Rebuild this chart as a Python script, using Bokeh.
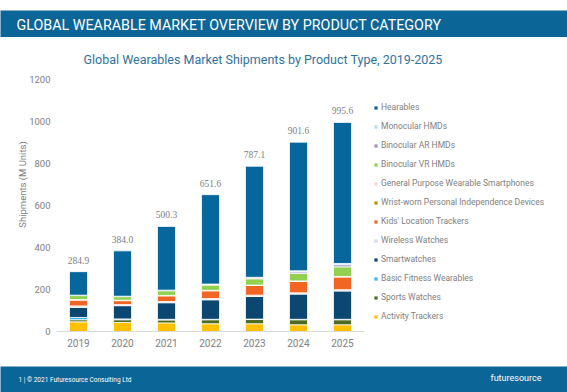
from bokeh.plotting import figure
from bokeh.models import (Range1d, ColumnDataSource, Legend, LegendItem,
                          LabelSet, Label, FixedTicker)
from bokeh.layouts import column
from bokeh.embed import file_html
from bokeh.resources import INLINE

# ---------------- data ----------------
years = ["2019", "2020", "2021", "2022", "2023", "2024", "2025"]
totals = [284.9, 384.0, 500.3, 651.6, 787.1, 901.6, 995.6]

activity_trackers = [46, 43, 41, 37, 37, 32, 32]
sports_watches = [10, 13, 14, 19, 20, 24, 24]
basic_fitness = [11, 4, 3, 2, 2, 2, 2]
smartwatches = [48, 63, 79, 93, 108, 120, 135]
wireless_watches = [7, 5, 6, 6, 6, 6, 6]
kids_trackers = [28, 19, 27, 37, 46, 55, 61]
wrist_worn = [1, 1, 1, 1, 1, 1, 1]
gp_smartphones = [1, 1, 1, 1, 1, 1, 1]
binocular_vr = [19, 17, 22, 25, 30, 36, 46]
binocular_ar = [1, 1, 2, 3, 4, 7, 10]
monocular = [1, 1, 1, 2, 3, 5, 6]
hearables = [111.9, 216.0, 303.3, 425.6, 529.1, 612.6, 671.6]

series_names = ["Activity Trackers", "Sports Watches", "Basic Fitness Wearables",
                "Smartwatches", "Wireless Watches", "Kids' Location Trackers",
                "Wrist-worn Personal Independence Devices",
                "General Purpose Wearable Smartphones", "Binocular VR HMDs",
                "Binocular AR HMDs", "Monocular HMDs", "Hearables"]
series_values = [activity_trackers, sports_watches, basic_fitness, smartwatches,
                 wireless_watches, kids_trackers, wrist_worn, gp_smartphones,
                 binocular_vr, binocular_ar, monocular, hearables]
series_colors = ["#FFC000", "#4F6B22", "#3DB5EA", "#0B4770", "#D7DAE6", "#F26522",
                 "#BF9000", "#F8D9D0", "#92D050", "#9C90C2", "#B4DEF2", "#07669C"]

y_ticks = [0, 200, 400, 600, 800, 1000, 1200]

main_title = "GLOBAL WEARABLE MARKET OVERVIEW BY PRODUCT CATEGORY"
chart_title = "Global Wearables Market Shipments by Product Type, 2019-2025"
y_label = "Shipments (M Units)"
footer_text = "1  |  \u00a9 2021 Futuresource Consulting Ltd"
logo_text = "futuresource"

# ---------------- style ----------------
FONT = "Roboto"
BLUE = "#0C6597"
GREY = "#808080"
W = 567

# ---------------- top banner ----------------
top = figure(width=W, height=37, x_range=Range1d(0, W), y_range=Range1d(0, 27),
             output_backend="svg", toolbar_location=None,
             x_axis_location=None, y_axis_location=None, frame_align=False,
             min_border_top=10, min_border_bottom=0, min_border_left=0, min_border_right=0)
top.grid.visible = False
top.outline_line_color = None
top.background_fill_color = BLUE
top.border_fill_color = "white"
top.add_layout(Label(x=16, y=13, text=main_title, text_baseline="middle",
                     text_color="white", text_font=FONT, text_font_size="14.3px"))

# ---------------- main chart ----------------
x_pos = [i + 0.5 for i in range(len(years))]
src = {"x": x_pos, "year": years}
for n, v in zip(series_names, series_values):
    src[n] = v
source = ColumnDataSource(src)

# frame: 511 px wide (44 px per year slot), 294 px tall (0..1200 over 252 px)
p = figure(width=W, height=329, x_range=Range1d(0, 511 / 44),
           y_range=Range1d(0, 1200 * 294 / 252),
           output_backend="svg", toolbar_location=None, frame_align=False,
           min_border_left=56, min_border_right=0, min_border_top=0, min_border_bottom=35)
p.outline_line_color = None
p.grid.grid_line_color = None
p.background_fill_color = "white"
p.border_fill_color = "white"

renderers = p.vbar_stack(series_names, x="x", width=0.41, color=series_colors,
                         line_color="white", line_width=0.8, source=source)

p.yaxis.ticker = FixedTicker(ticks=y_ticks)
p.yaxis.axis_line_color = None
p.yaxis.major_tick_line_color = None
p.yaxis.major_tick_out = 0
p.yaxis.minor_tick_line_color = None
p.yaxis.major_label_standoff = 6
p.yaxis.major_label_text_font = FONT
p.yaxis.major_label_text_font_size = "9.5px"
p.yaxis.major_label_text_color = GREY
p.yaxis.axis_label = y_label
p.yaxis.axis_label_text_font = FONT
p.yaxis.axis_label_text_font_style = "normal"
p.yaxis.axis_label_text_font_size = "9.5px"
p.yaxis.axis_label_text_color = GREY
p.yaxis.axis_label_standoff = -2

p.xaxis.ticker = FixedTicker(ticks=x_pos)
p.xaxis.major_label_overrides = {x: y for x, y in zip(x_pos, years)}
p.xaxis.bounds = (0, len(years))
p.xaxis.axis_line_color = "#D9D9D9"
p.xaxis.major_tick_line_color = None
p.xaxis.major_tick_out = 0
p.xaxis.minor_tick_line_color = None
p.xaxis.major_label_standoff = 7
p.xaxis.major_label_text_font = FONT
p.xaxis.major_label_text_font_size = "10px"
p.xaxis.major_label_text_color = GREY

tot_src = ColumnDataSource({"x": x_pos, "total": totals,
                            "txt": ["%.1f" % t for t in totals]})
p.add_layout(LabelSet(x="x", y="total", text="txt", source=tot_src, y_offset=8,
                      text_align="center", text_baseline="bottom", text_font=FONT,
                      text_font_size="9.5px", text_color=GREY))

# chart title (inside the frame's upper white area)
p.add_layout(Label(x=27, y=272, x_units="screen", y_units="screen", text=chart_title,
                   text_baseline="middle", text_color="#2F72A3", text_font=FONT,
                   text_font_size="12.5px"))

items = [LegendItem(label=n, renderers=[r]) for n, r in zip(series_names, renderers)]
items.reverse()
legend = Legend(items=items, location=(317, 10), padding=0, margin=0,
                border_line_color=None, background_fill_alpha=0,
                glyph_width=5, glyph_height=5, label_height=10, spacing=9,
                label_standoff=3, label_text_font=FONT, label_text_font_size="8.5px",
                label_text_color=GREY)
p.add_layout(legend)

# ---------------- footer ----------------
bot = figure(width=W, height=26, x_range=Range1d(0, W), y_range=Range1d(0, 26),
             output_backend="svg", toolbar_location=None, frame_align=False,
             x_axis_location=None, y_axis_location=None,
             min_border_top=0, min_border_bottom=0, min_border_left=0, min_border_right=0)
bot.grid.visible = False
bot.outline_line_color = None
bot.background_fill_color = BLUE
bot.border_fill_color = BLUE
bot.add_layout(Label(x=18, y=13, text=footer_text, text_baseline="middle",
                     text_color="white", text_font=FONT, text_font_size="6.5px"))
bot.add_layout(Label(x=490, y=15, text=logo_text, text_baseline="middle",
                     text_color="white", text_font=FONT, text_font_size="9px"))

layout = column(top, p, bot, spacing=0)
open("out.html", "w").write(file_html(layout, INLINE))
